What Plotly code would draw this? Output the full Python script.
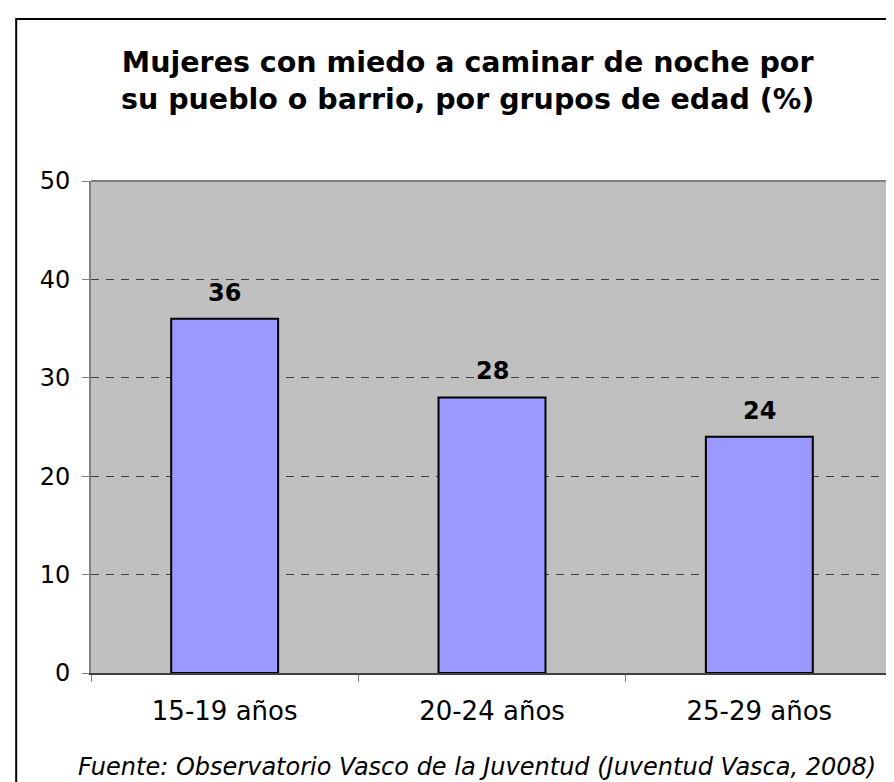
import plotly.graph_objects as go

categories = ["15-19 años", "20-24 años", "25-29 años"]
values = [36, 28, 24]
y_ticks = [0, 10, 20, 30, 40, 50]

title_text = "Mujeres con miedo a caminar de noche por<br>su pueblo o barrio, por grupos de edad (%)"
source_text = "Fuente: Observatorio Vasco de la Juventud (Juventud Vasca, 2008)"

W, H = 894, 782
ML, MR, MT, MB = 83, 7, 173, 117
PW, PH = W - ML - MR, H - MT - MB

def px_x(p):
    return (p - ML) / PW

def px_y(p):
    return (H - MB - p) / PH

fig = go.Figure()
fig.add_trace(go.Bar(
    x=categories, y=values, width=0.4,
    marker=dict(color="#9999FF", line=dict(color="black", width=2)),
    hoverinfo="skip",
))

for c, v in zip(categories, values):
    fig.add_annotation(x=c, y=v, xref="x", yref="y", text=f"<b>{v}</b>",
                       showarrow=False, yanchor="bottom", yshift=10,
                       font=dict(family="DejaVu Sans", size=24, color="black"))

# title
fig.add_annotation(x=px_x(460), y=px_y(36), xref="paper", yref="paper",
                   text=f"<b>{title_text}</b>", showarrow=False,
                   xanchor="center", yanchor="top", align="center",
                   font=dict(family="DejaVu Sans", size=28.5, color="black"))

# source
fig.add_annotation(x=px_x(68), y=px_y(743), xref="paper", yref="paper",
                   text=f"<i>{source_text}</i>", showarrow=False,
                   xanchor="left", yanchor="top",
                   font=dict(family="DejaVu Sans", size=24, color="black"))

# outer chart border (right and bottom edges fall outside the visible page)
fig.add_shape(type="rect", xref="paper", yref="paper",
              x0=px_x(8), x1=px_x(915), y0=px_y(795), y1=px_y(11),
              line=dict(color="black", width=2), fillcolor="rgba(0,0,0,0)", layer="above")
# top edge of plot area
fig.add_shape(type="line", xref="paper", yref="paper", x0=0, x1=1, y0=1, y1=1,
              line=dict(color="#808080", width=2), layer="above")

fig.update_layout(
    width=W, height=H,
    margin=dict(l=ML, r=MR, t=MT, b=MB),
    paper_bgcolor="white", plot_bgcolor="#C0C0C0",
    showlegend=False,
    font=dict(family="DejaVu Sans", color="black"),
    bargap=0.6,
)
fig.update_xaxes(
    type="category", tickson="boundaries", ticks="outside", ticklen=7,
    tickcolor="#808080", tickwidth=1,
    showline=True, linecolor="#404040", linewidth=2,
    showgrid=False, tickfont=dict(size=26), ticklabelstandoff=14,
)
fig.update_yaxes(
    range=[0, 50], tickvals=y_ticks, ticks="outside", ticklen=7,
    tickcolor="#808080", tickwidth=1,
    showline=True, linecolor="#808080", linewidth=2, mirror=True,
    showgrid=True, gridcolor="#404040", gridwidth=1, griddash="8px,7px",
    zeroline=False, tickfont=dict(size=24), ticklabelstandoff=7,
)

fig.write_html("out.html")
